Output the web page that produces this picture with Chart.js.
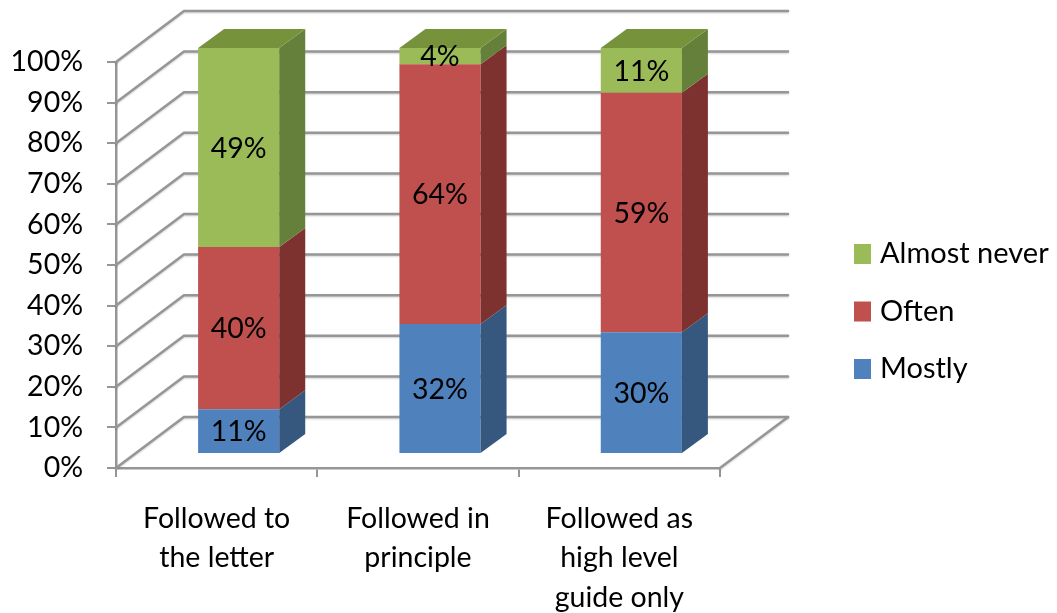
<!DOCTYPE html>
<html>
<head>
<meta charset="utf-8">
<script src="https://cdn.jsdelivr.net/npm/chart.js@4/dist/chart.umd.min.js"></script>
<style>
  html, body { margin: 0; padding: 0; background: #fff; }
  #wrap { width: 1057px; height: 613px; position: relative; }
</style>
</head>
<body>
<div id="wrap"><canvas id="usageChart"></canvas></div>
<script>
const categories = [['Followed to', 'the letter'], ['Followed in', 'principle'], ['Followed as', 'high level', 'guide only']];
const mostly = [11, 32, 30];
const often = [40, 64, 59];
const almostNever = [49, 4, 11];
const yMax = 100;
const yStep = 10;

const FONT = 'Lato, "Open Sans", sans-serif';
const GRID = '#969696';

// 3d look: wall depth, where the bars sit inside it, and how deep they are
const WALL = { dx: 68, dy: -51 };
const BAR_SHIFT = { dx: 22, dy: -14 };
const BAR_DEPTH = { dx: 26, dy: -19 };

const series = [
    { label: 'Mostly', data: mostly, front: '#4F81BD', side: '#36587F', top: '#3F6797' },
    { label: 'Often', data: often, front: '#C0504D', side: '#7D3230', top: '#9A3E3B' },
    { label: 'Almost never', data: almostNever, front: '#9BBB59', side: '#64803A', top: '#76933C' }
];

const walls3d = {
    id: 'walls3d',
    beforeDatasetsDraw(chart) {
        const { ctx, chartArea: a, scales: { y } } = chart;
        ctx.save();
        ctx.strokeStyle = GRID;
        ctx.lineWidth = 2.5;
        ctx.lineCap = 'round';
        ctx.shadowColor = 'rgba(0,0,0,0.18)';
        ctx.shadowBlur = 2;
        ctx.shadowOffsetY = 1;
        y.ticks.forEach(t => {
            const py = y.getPixelForValue(t.value);
            ctx.beginPath();
            ctx.moveTo(a.left, py);
            ctx.lineTo(a.left + WALL.dx, py + WALL.dy);
            ctx.lineTo(a.right + WALL.dx, py + WALL.dy);
            ctx.stroke();
        });
        // right edge of the floor
        const base = y.getPixelForValue(0);
        ctx.beginPath();
        ctx.moveTo(a.right, base);
        ctx.lineTo(a.right + WALL.dx, base + WALL.dy);
        ctx.stroke();
        ctx.restore();

        ctx.save();
        ctx.translate(BAR_SHIFT.dx, BAR_SHIFT.dy);
    },
    afterDatasetsDraw(chart) {
        const { ctx } = chart;
        const last = chart.data.datasets.length - 1;
        chart.data.datasets.forEach((ds, i) => {
            const meta = chart.getDatasetMeta(i);
            meta.data.forEach(bar => {
                const { x, y, base, width } = bar.getProps(['x', 'y', 'base', 'width'], true);
                const l = x - width / 2, r = x + width / 2;
                ctx.fillStyle = series[i].side;
                ctx.beginPath();
                ctx.moveTo(r, y);
                ctx.lineTo(r + BAR_DEPTH.dx, y + BAR_DEPTH.dy);
                ctx.lineTo(r + BAR_DEPTH.dx, base + BAR_DEPTH.dy);
                ctx.lineTo(r, base);
                ctx.closePath();
                ctx.fill();
                if (i === last) {
                    ctx.fillStyle = series[i].top;
                    ctx.beginPath();
                    ctx.moveTo(l, y);
                    ctx.lineTo(l + BAR_DEPTH.dx, y + BAR_DEPTH.dy);
                    ctx.lineTo(r + BAR_DEPTH.dx, y + BAR_DEPTH.dy);
                    ctx.lineTo(r, y);
                    ctx.closePath();
                    ctx.fill();
                }
            });
        });
        // value labels in the middle of each front face
        ctx.fillStyle = '#000';
        ctx.font = '28.5px ' + FONT;
        ctx.textAlign = 'center';
        ctx.textBaseline = 'middle';
        chart.data.datasets.forEach((ds, i) => {
            chart.getDatasetMeta(i).data.forEach((bar, j) => {
                const { x, y, base } = bar.getProps(['x', 'y', 'base'], true);
                ctx.fillText(ds.data[j] + '%', x, (y + base) / 2 + 1);
            });
        });
        ctx.restore();
    },
    afterDraw(chart) {
        // legend, top entry first
        const { ctx } = chart;
        ctx.save();
        ctx.font = '29px ' + FONT;
        ctx.textAlign = 'left';
        ctx.textBaseline = 'middle';
        [...series].reverse().forEach((s, k) => {
            const cy = 254 + k * 57.5;
            ctx.fillStyle = s.front;
            ctx.fillRect(854, cy - 10, 17, 20);
            ctx.fillStyle = '#000';
            ctx.fillText(s.label, 880, cy);
        });
        ctx.restore();
    }
};

new Chart(document.getElementById('usageChart'), {
    type: 'bar',
    data: {
        labels: categories,
        datasets: series.map(s => ({
            label: s.label,
            data: s.data,
            backgroundColor: s.front,
            borderWidth: 0,
            barPercentage: 0.403,
            categoryPercentage: 1,
            clip: false
        }))
    },
    options: {
        responsive: true,
        maintainAspectRatio: false,
        animation: false,
        events: [],
        layout: { padding: { top: 62, right: 337, left: 0, bottom: 0 } },
        plugins: { legend: { display: false }, tooltip: { enabled: false } },
        scales: {
            x: {
                stacked: true,
                afterFit(scale) { scale.height = 145; },
                grid: { drawOnChartArea: false, color: GRID, lineWidth: 2, tickLength: 9 },
                border: { color: GRID, width: 2.5 },
                ticks: { color: '#000', padding: 22, font: { family: FONT, size: 28.5, lineHeight: 1.386 } }
            },
            y: {
                stacked: true,
                min: 0,
                max: yMax,
                afterFit(scale) { scale.width = 116; },
                grid: { drawOnChartArea: false, color: GRID, lineWidth: 2, tickLength: 9 },
                border: { color: GRID, width: 2.5 },
                ticks: {
                    stepSize: yStep,
                    color: '#000',
                    padding: 24,
                    font: { family: FONT, size: 28.5 },
                    callback: v => v + '%'
                }
            }
        }
    },
    plugins: [walls3d]
});
</script>
</body>
</html>
